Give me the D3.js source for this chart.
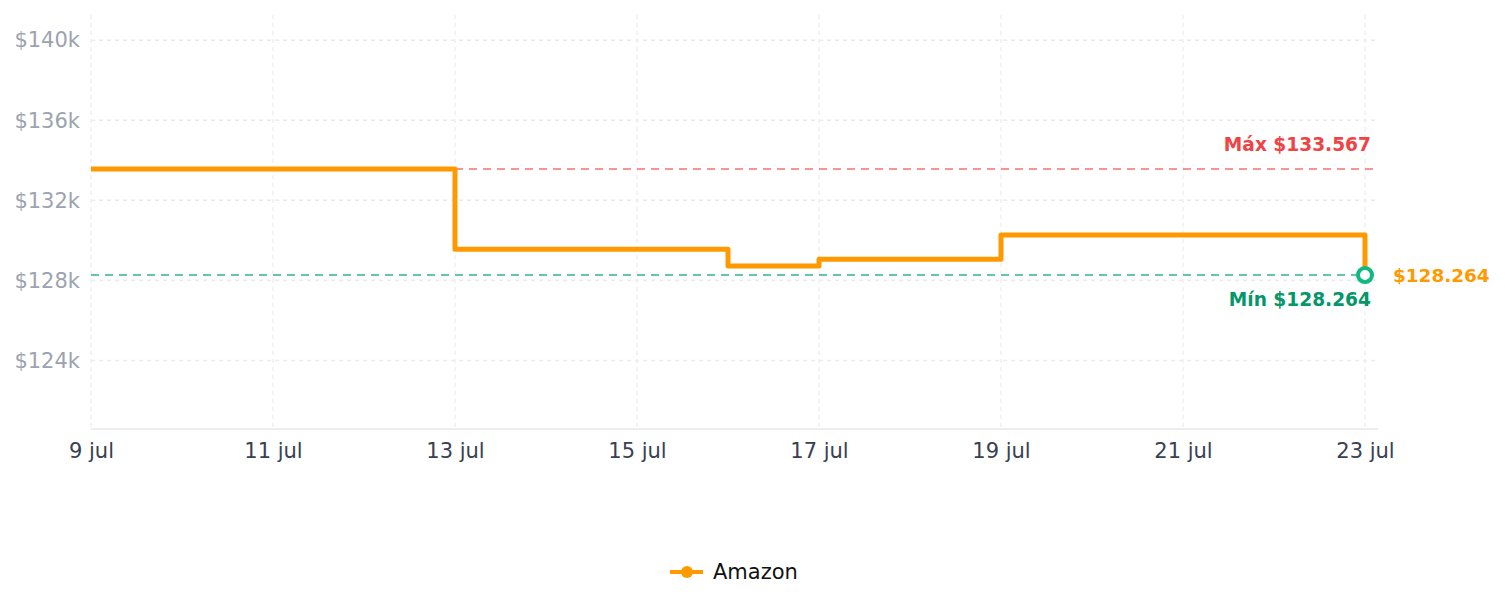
<!DOCTYPE html>
<html><head><meta charset="utf-8">
<script src="https://cdn.jsdelivr.net/npm/d3@7"></script>
<style>body{margin:0;background:#fff;font-family:"DejaVu Sans",sans-serif}</style>
</head><body><svg id="c" width="1505" height="607"></svg>
<script>
const dates = ["2024-07-09","2024-07-13","2024-07-16","2024-07-17","2024-07-19","2024-07-23"];
const prices = [133567, 129549, 128717, 129049, 130264, 128264];
const yTicks = [124000,128000,132000,136000,140000];
const xTickDates = ["2024-07-09","2024-07-11","2024-07-13","2024-07-15","2024-07-17","2024-07-19","2024-07-21","2024-07-23"];
const seriesName = "Amazon";
const maxPrice = 133567, minPrice = 128264;

const parse = d3.utcParse("%Y-%m-%d");
const data = dates.map((d,i)=>({date:parse(d), price:prices[i]}));
const svg = d3.select("#c");
const L=91, R=1378, T=15, B=429;
const x0 = parse("2024-07-09"), x1 = parse("2024-07-23");
const x = d3.scaleUtc().domain([x0, x1]).range([L, 1365]);
const pad = (maxPrice-minPrice)*1.45;
const y = d3.scaleLinear().domain([minPrice-pad, maxPrice+pad]).range([B, T]);
const months=["ene","feb","mar","abr","may","jun","jul","ago","sep","oct","nov","dic"];
const fmtDate = d => d.getUTCDate()+" "+months[d.getUTCMonth()];
const fmtPrice = v => "$"+d3.format(",.0f")(v).replace(/,/g,".");

// grid
svg.append("g").selectAll("line").data(yTicks).join("line")
  .attr("x1",L).attr("x2",R).attr("y1",d=>y(d)).attr("y2",d=>y(d))
  .attr("stroke","#ececec").attr("stroke-width",1.5).attr("stroke-dasharray","4,4");
svg.append("g").selectAll("line").data(xTickDates.map(parse)).join("line")
  .attr("x1",d=>x(d)).attr("x2",d=>x(d)).attr("y1",T).attr("y2",B)
  .attr("stroke","#f0f0f0").attr("stroke-width",1.5).attr("stroke-dasharray","4,4");

// y axis labels
svg.append("g").selectAll("text").data(yTicks).join("text")
  .attr("x",80).attr("y",d=>y(d)).attr("dy","0.35em").attr("text-anchor","end")
  .attr("font-size",21).attr("fill","#9ca3af").text(d=>"$"+(d/1000)+"k");
// x axis
const xa = svg.append("g").attr("transform",`translate(0,${B})`)
  .call(d3.axisBottom(x).tickValues(xTickDates.map(parse)).tickFormat(fmtDate).tickSize(0).tickPadding(14));
xa.select(".domain").remove();
xa.selectAll("text").attr("font-size",21).attr("fill","#374151").attr("font-family","DejaVu Sans");
svg.append("line").attr("x1",L).attr("x2",R).attr("y1",B).attr("y2",B).attr("stroke","#e5e7eb").attr("stroke-width",1.5);

// max/min lines
svg.append("line").attr("x1",x(data[1].date)).attr("x2",R).attr("y1",y(maxPrice)).attr("y2",y(maxPrice))
  .attr("stroke","#f87171").attr("stroke-width",1.5).attr("stroke-dasharray","8,6");
svg.append("line").attr("x1",L).attr("x2",R).attr("y1",y(minPrice)).attr("y2",y(minPrice))
  .attr("stroke","#34b386").attr("stroke-width",1.5).attr("stroke-dasharray","8,6");

// step line
const line = d3.line().x(d=>x(d.date)).y(d=>y(d.price)).curve(d3.curveStepAfter);
svg.append("path").datum(data).attr("d",line).attr("fill","none")
  .attr("stroke","#ff9900").attr("stroke-width",5).attr("stroke-linejoin","round");

// labels
svg.append("text").attr("x",1371).attr("y",y(maxPrice)-18).attr("text-anchor","end")
  .attr("font-size",18.6).attr("font-weight","bold").attr("fill","#ef4444").text("Máx "+fmtPrice(maxPrice));
svg.append("text").attr("x",1371).attr("y",y(minPrice)+31).attr("text-anchor","end")
  .attr("font-size",18.6).attr("font-weight","bold").attr("fill","#059669").text("Mín "+fmtPrice(minPrice));
const last = data[data.length-1];
svg.append("circle").attr("cx",x(last.date)).attr("cy",y(last.price)).attr("r",7)
  .attr("fill","#fff").attr("stroke","#10b981").attr("stroke-width",4);
svg.append("text").attr("x",x(last.date)+28).attr("y",y(last.price)).attr("dy","0.35em")
  .attr("font-size",18.4).attr("font-weight","bold").attr("fill","#ff9900").text(fmtPrice(last.price));

// legend
const lg = svg.append("g");
lg.append("line").attr("x1",670).attr("x2",703).attr("y1",572).attr("y2",572).attr("stroke","#ff9900").attr("stroke-width",4);
lg.append("circle").attr("cx",687).attr("cy",572).attr("r",6).attr("fill","#ff9900");
lg.append("text").attr("x",713).attr("y",572).attr("dy","0.35em").attr("font-size",21).attr("fill","#111").text(seriesName);
</script></body></html>
